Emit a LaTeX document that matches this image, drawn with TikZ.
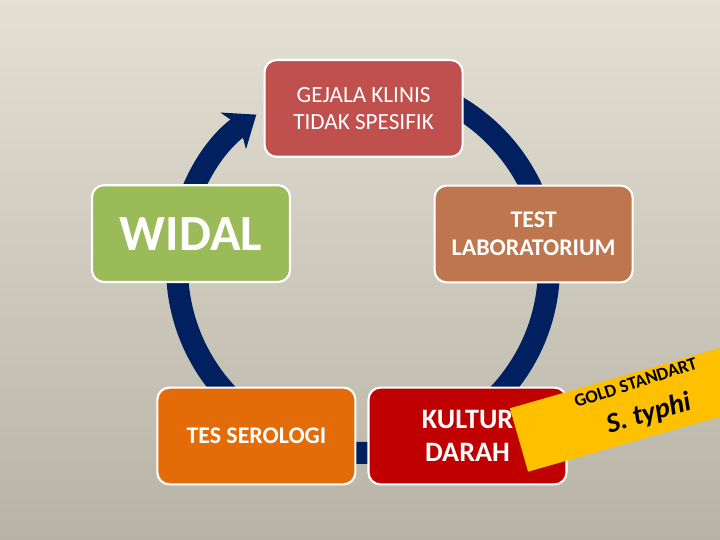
\documentclass[tikz,border=0pt]{standalone}
\usepackage{fontspec}
\setmainfont{Carlito}
\usetikzlibrary{arrows.meta,positioning,calc}

\definecolor{bgtop}{RGB}{228,225,212}
\definecolor{bgbot}{RGB}{183,179,166}
\definecolor{siklus}{RGB}{0,32,96}
\definecolor{gejala}{RGB}{192,80,77}
\definecolor{lab}{RGB}{190,118,79}
\definecolor{widal}{RGB}{155,187,89}
\definecolor{serologi}{RGB}{227,108,9}
\definecolor{kultur}{RGB}{192,0,0}
\definecolor{pita}{RGB}{255,192,0}

\begin{document}
\begin{tikzpicture}[
    box/.style={draw=white, line width=1.5pt, rounded corners=0.3cm,
        minimum width=4.95cm, minimum height=2.42cm, text=white, align=center},
    besar/.style 2 args={font=\bfseries\fontsize{#1}{#2}\selectfont}
    ]
    \shade[top color=bgtop, bottom color=bgbot] (0,0) rectangle (18,13.5);
    \useasboundingbox (0,0) rectangle (18,13.5);

    \coordinate (pusat) at (9.075,6.825);
    \draw[line width=0.55cm, siklus, -{Stealth[length=0.7cm, width=1.1cm, inset=0.2cm]}]
        ($(pusat)+(90:4.65)$) arc (90:-235:4.65);

    \node[box, fill=gejala, font=\fontsize{16.5}{19.5}\selectfont] (gejala) at (9.09,10.79) {GEJALA KLINIS\\TIDAK SPESIFIK};
    \node[box, fill=lab, besar={17}{20}] (lab) at (13.34,7.65) {TEST\\LABORATORIUM};
    \node[box, fill=widal, besar={36}{40}] (widal) at (4.775,7.66) {WIDAL};
    \node[box, fill=serologi, besar={17}{20}] (serologi) at (6.41,2.6) {TES SEROLOGI};
    \node[box, fill=kultur, besar={20}{24}, right=0.275cm of serologi] (kultur) {KULTUR\\DARAH};

    \begin{scope}
        \clip (0,0) rectangle (18,13.5);
        \begin{scope}[shift={(12.975,2.5)}, rotate=16]
            \fill[pita] (0,-0.825) rectangle (8,0.825);
            \node[transform shape, besar={13}{15}, rotate=2, inner sep=0pt] (gold) at (3.2,0.58) {GOLD STANDART};
            \node[transform shape, font=\bfseries\itshape\fontsize{20}{24}\selectfont, inner sep=0pt] (typhi) at (3.3,-0.27) {S. typhi};
        \end{scope}
    \end{scope}
\end{tikzpicture}
\end{document}
